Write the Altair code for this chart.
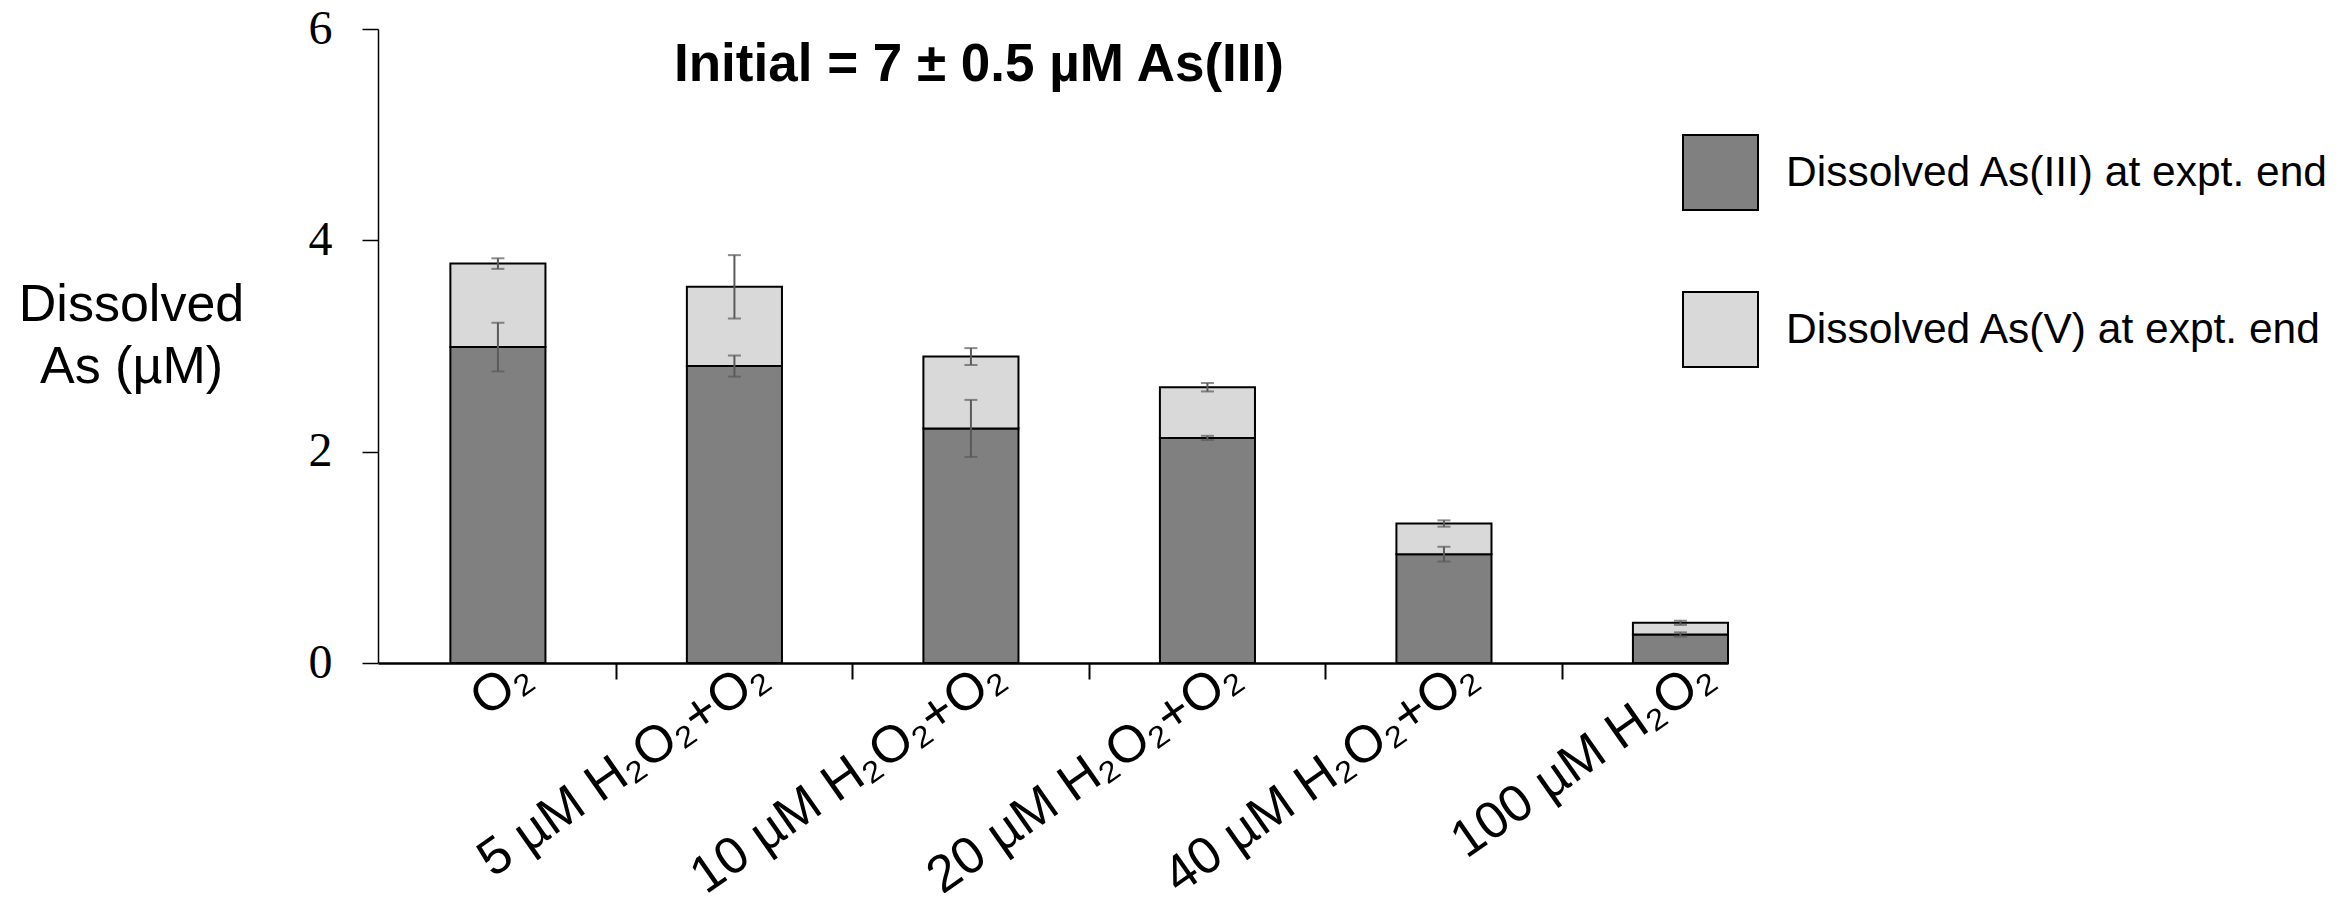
import altair as alt
import pandas as pd

categories = ["O₂", "5 µM H₂O₂+O₂", "10 µM H₂O₂+O₂", "20 µM H₂O₂+O₂", "40 µM H₂O₂+O₂", "100 µM H₂O₂"]
as3 = [2.99, 2.81, 2.22, 2.13, 1.03, 0.27]
as5 = [0.79, 0.75, 0.68, 0.48, 0.29, 0.11]
as3_err = [0.23, 0.10, 0.27, 0.02, 0.07, 0.02]
tot_err = [0.05, 0.30, 0.08, 0.04, 0.03, 0.02]
series = ["Dissolved As(III) at expt. end", "Dissolved As(V) at expt. end"]
colors = ["#808080", "#d9d9d9"]
y_ticks = [0, 2, 4, 6]

rows = []
err_rows = []
for c, a3, a5, e3, et in zip(categories, as3, as5, as3_err, tot_err):
    tot = a3 + a5
    rows.append({"cat": c, "series": series[0], "lo": 0.0, "hi": a3})
    rows.append({"cat": c, "series": series[1], "lo": a3, "hi": tot})
    err_rows.append({"cat": c, "lo": a3 - e3, "hi": a3 + e3})
    err_rows.append({"cat": c, "lo": tot - et, "hi": tot + et})
bars_df = pd.DataFrame(rows)
err_df = pd.DataFrame(err_rows)

xscale = alt.Scale(domain=categories, paddingInner=0.598, paddingOuter=0.153, align=1)
yscale = alt.Scale(domain=[0, 6], nice=False)

# axis with labels and baseline
x_main = alt.X("cat:N", scale=xscale, sort=categories,
               axis=alt.Axis(title=None, orient="bottom", labelAngle=-35,
                             labelFont="Liberation Sans", labelFontSize=52,
                             labelColor="black", labelPadding=-14, labelOffset=14,
                             labelLimit=1000, domainColor="black", domainWidth=2.5,
                             ticks=False, grid=False))
# axis with ticks between the bars only
x_ticks = alt.X("cat:N", scale=xscale, sort=categories,
                axis=alt.Axis(title=None, orient="bottom", values=categories[1:],
                              labels=False, domain=False, grid=False,
                              tickColor="black", tickWidth=2, tickSize=16,
                              bandPosition=0, tickOffset=-71))

bars = alt.Chart(bars_df).mark_bar(stroke="black", strokeWidth=2).encode(
    x=x_main,
    y=alt.Y("lo:Q", scale=yscale,
            axis=alt.Axis(values=y_ticks, format="d", title=["Dissolved", "As (µM)"],
                          titleAngle=0, titleX=-247, titleY=291, titleAlign="center",
                          titleBaseline="alphabetic", titleFont="Liberation Sans",
                          titleFontSize=52, titleFontWeight="normal", titleLineHeight=62,
                          titleColor="black",
                          labelFont="Liberation Serif", labelFontSize=48, labelColor="black",
                          labelPadding=30, tickSize=16, tickWidth=1.5, tickColor="black",
                          domainColor="black", domainWidth=1.5, grid=False)),
    y2="hi:Q",
    color=alt.Color("series:N", scale=alt.Scale(domain=series, range=colors),
                    legend=alt.Legend(title=None, orient="none", legendX=1304, legendY=105,
                                      symbolType="square", symbolSize=5625,
                                      symbolStrokeColor="black", symbolStrokeWidth=2,
                                      labelFont="Liberation Sans", labelFontSize=42.5,
                                      labelColor="black", labelLimit=1000, labelOffset=27,
                                      rowPadding=74, padding=0)),
)

err_color = "#5a5a5a"
err_rule = alt.Chart(err_df).mark_rule(color=err_color, strokeWidth=2).encode(
    x=x_ticks,
    y=alt.Y("lo:Q", scale=yscale), y2="hi:Q")
err_lo = alt.Chart(err_df).mark_tick(color=err_color, thickness=2, size=13, orient="horizontal").encode(
    x=alt.X("cat:N", scale=xscale, sort=categories, axis=None), y=alt.Y("lo:Q", scale=yscale))
err_hi = alt.Chart(err_df).mark_tick(color=err_color, thickness=2, size=13, orient="horizontal").encode(
    x=alt.X("cat:N", scale=xscale, sort=categories, axis=None), y=alt.Y("hi:Q", scale=yscale))

chart = alt.layer(bars, err_rule, err_lo, err_hi).resolve_axis(x="independent").properties(
    width=1350, height=634,
    background="white",
    padding={"left": 370, "top": 21, "right": 607, "bottom": 230},
    autosize=alt.AutoSizeParams(type="none"),
    title=alt.TitleParams("Initial = 7 ± 0.5 µM As(III)", font="Liberation Sans",
                          fontSize=53, fontWeight="bold", color="black",
                          anchor="start", frame="group", dx=296, dy=91),
).configure_view(strokeWidth=0, stroke="transparent")

chart.save("out.html", embed_options={"renderer": "svg", "actions": False})
